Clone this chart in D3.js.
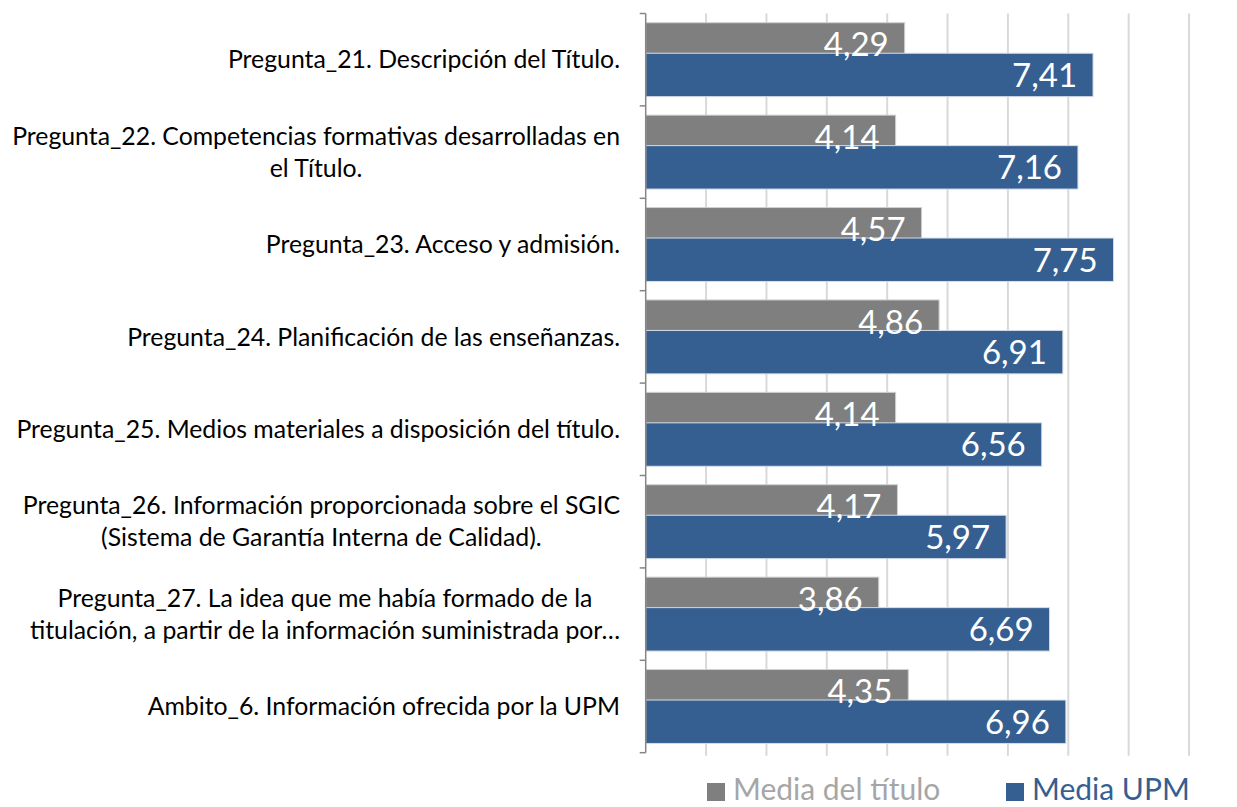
<!DOCTYPE html>
<html>
<head>
<meta charset="utf-8">
<script src="https://cdn.jsdelivr.net/npm/d3@7"></script>
<style>
  html, body { margin: 0; padding: 0; background: #fff; }
  svg { display: block; }
  text { font-family: Lato, "Open Sans", sans-serif; }
</style>
</head>
<body>
<svg id="chart" width="1237" height="807"></svg>
<script>
const categories = [
  ["Pregunta_21. Descripción del Título."],
  ["Pregunta_22. Competencias formativas desarrolladas en", "el Título."],
  ["Pregunta_23. Acceso y admisión."],
  ["Pregunta_24. Planificación de las enseñanzas."],
  ["Pregunta_25. Medios materiales a disposición del título."],
  ["Pregunta_26. Información proporcionada sobre el SGIC", "(Sistema de Garantía Interna de Calidad)."],
  ["Pregunta_27. La idea que me había formado de la", "titulación, a partir de la información suministrada por…"],
  ["Ambito_6. Información ofrecida por la UPM"]
];
const mediaTitulo = [4.29, 4.14, 4.57, 4.86, 4.14, 4.17, 3.86, 4.35];
const mediaUPM    = [7.41, 7.16, 7.75, 6.91, 6.56, 5.97, 6.69, 6.96];
const seriesNames = ["Media del título", "Media UPM"];
const xTicks = [0, 1, 2, 3, 4, 5, 6, 7, 8, 9];

(function () {
const GRAY = "#7f7f7f", BLUE = "#365f91";
const svg = d3.select("#chart");
const left = 645.7, plotTop = 13.5, plotBottom = 752.7;
const x = d3.scaleLinear().domain([0, 10]).range([left, left + 603.7]);
const y = d3.scaleBand().domain(d3.range(categories.length)).range([plotTop, plotBottom]);
const bw = y.bandwidth();
const barH = bw * 0.47;

// gridlines
svg.append("g").selectAll("line").data(xTicks.filter(d => d > 0)).join("line")
  .attr("x1", d => x(d)).attr("x2", d => x(d))
  .attr("y1", plotTop).attr("y2", plotBottom + 3)
  .attr("stroke", "#d9d9d9").attr("stroke-width", 2);

// bars
const fmt = v => d3.format(".2f")(v).replace(".", ",");
svg.append("g").selectAll("rect").data(mediaTitulo).join("rect")
  .attr("x", left).attr("y", (d, i) => y(i) + bw * 0.1)
  .attr("width", d => x(d) - left).attr("height", barH)
  .attr("fill", GRAY).attr("stroke", "#d0d0d0").attr("stroke-width", 1);
svg.append("g").selectAll("rect").data(mediaUPM).join("rect")
  .attr("x", left).attr("y", (d, i) => y(i) + bw * 0.43)
  .attr("width", d => x(d) - left).attr("height", barH)
  .attr("fill", BLUE).attr("stroke", "#d6dde8").attr("stroke-width", 1);

// value labels
function labels(data, off) {
  svg.append("g").selectAll("text").data(data).join("text")
    .attr("x", d => x(d) - 16)
    .attr("y", (d, i) => y(i) + bw * off + barH / 2)
    .attr("dy", "0.36em")
    .attr("text-anchor", "end")
    .attr("font-size", 33).attr("fill", "#fff")
    .text(fmt);
}
labels(mediaTitulo, 0.1);
labels(mediaUPM, 0.43);

// y axis
const ax = svg.append("g");
ax.append("line").attr("x1", left).attr("x2", left).attr("y1", plotTop).attr("y2", plotBottom)
  .attr("stroke", "#868686").attr("stroke-width", 1.5);
const bounds = d3.range(categories.length + 1).map(i => plotTop + i * bw);
ax.selectAll("line.t").data(bounds).join("line").attr("class", "t")
  .attr("x1", left - 6).attr("x2", left).attr("y1", d => d).attr("y2", d => d)
  .attr("stroke", "#868686").attr("stroke-width", 1.5);

// category labels
const lineH = 32;
const catG = svg.append("g");
categories.forEach((lines, i) => {
  const cy = y(i) + bw / 2;
  const g = catG.append("g");
  const ts = lines.map((ln, j) => g.append("text")
    .attr("y", cy + (j - (lines.length - 1) / 2) * lineH)
    .attr("dy", "0.35em")
    .attr("text-anchor", "middle")
    .attr("font-size", 24.8).attr("fill", "#000")
    .text(ln));
  const maxW = d3.max(ts, t => t.node().getComputedTextLength());
  ts.forEach(t => t.attr("x", 620 - maxW / 2));
});

// legend
const legend = svg.append("g");
const legItems = [{name: seriesNames[0], color: GRAY, text: "#a6a6a6", x: 707},
                  {name: seriesNames[1], color: BLUE, text: BLUE, x: 1006}];
legItems.forEach(it => {
  legend.append("rect").attr("x", it.x).attr("y", 783).attr("width", 18).attr("height", 18).attr("fill", it.color);
  legend.append("text").attr("x", it.x + 26).attr("y", 800).attr("font-size", 30)
    .attr("fill", it.text).text(it.name);
});
})();
</script>
</body>
</html>
